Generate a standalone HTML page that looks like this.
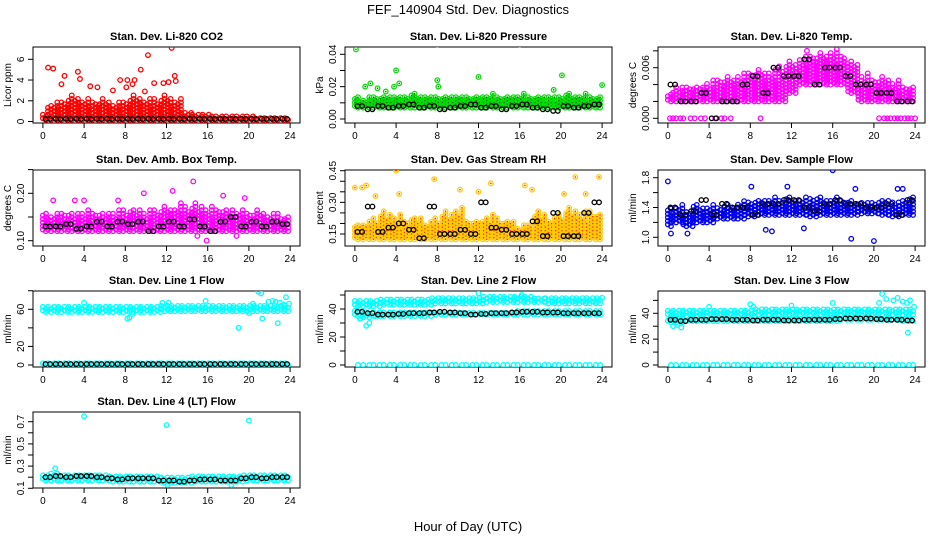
<!DOCTYPE html>
<html><head><meta charset="utf-8">
<style>
html,body{margin:0;padding:0;background:#fff;}
svg{display:block;font-family:"Liberation Sans",sans-serif;}
</style></head>
<body>
<svg id="chart" width="936" height="540" viewBox="0 0 936 540">
<text x="468" y="14" text-anchor="middle" font-size="13">FEF_140904  Std. Dev. Diagnostics</text>
<text x="468" y="531" text-anchor="middle" font-size="13">Hour of Day (UTC)</text>
</svg>
<script>
// ---------- data ----------
const hours = [0,1,2,3,4,5,6,7,8,9,10,11,12,13,14,15,16,17,18,19,20,21,22,23,24];
const blackT = [0.5,1.5,2.5,3.5,4.5,5.5,6.5,7.5,8.5,9.5,10.5,11.5,12.5,13.5,14.5,15.5,16.5,17.5,18.5,19.5,20.5,21.5,22.5,23.5];
const xTicks = [0,4,8,12,16,20,24];

const co2Lo = [0.15,0.15,0.15,0.15,0.15,0.15,0.15,0.15,0.15,0.15,0.15,0.15,0.15,0.15,0.15,0.15,0.15,0.15,0.15,0.15,0.15,0.15,0.15,0.15,0.15];
const co2Hi = [0.8,2.0,2.3,2.6,2.5,2.3,2.2,2.0,2.3,2.6,2.5,2.4,2.6,2.4,1.2,0.8,0.7,0.6,0.5,0.5,0.5,0.45,0.45,0.45,0.45];
const co2Black = [0.25,0.25,0.25,0.25,0.25,0.25,0.25,0.25,0.25,0.25,0.25,0.25,0.25,0.25,0.25,0.25,0.25,0.25,0.25,0.25,0.25,0.25,0.25,0.25];
const co2OutT = [0.5,1.0,2.1,3.4,3.6,1.8,5.3,7.5,8.2,8.1,8.9,8.7,9.5,10.2,10.8,11.7,12.2,12.5,12.8,12.9,9.9,4.6,6.8];
const co2OutV = [5.2,5.1,4.4,4.8,4.1,3.6,3.3,4.0,4.0,3.3,4.0,3.6,5.0,6.4,3.7,3.7,3.8,7.1,4.4,3.9,2.9,3.4,3.0];

const presLo = [0.007,0.007,0.007,0.007,0.007,0.007,0.007,0.007,0.007,0.007,0.007,0.007,0.007,0.007,0.007,0.007,0.007,0.007,0.007,0.007,0.007,0.007,0.007,0.007,0.007];
const presHi = [0.015,0.014,0.015,0.014,0.015,0.015,0.016,0.015,0.016,0.015,0.015,0.016,0.015,0.016,0.016,0.015,0.016,0.016,0.015,0.015,0.015,0.016,0.016,0.016,0.015];
const presBlack = [0.008,0.006,0.008,0.007,0.008,0.009,0.007,0.008,0.006,0.007,0.008,0.009,0.007,0.008,0.006,0.008,0.009,0.007,0.006,0.005,0.008,0.007,0.008,0.009];
const presOutT = [0.1,1.0,1.5,2.2,3.0,3.8,4.3,4.0,8.0,8.0,8.1,12.0,16.0,19.3,20.1,24.0];
const presOutV = [0.043,0.020,0.022,0.019,0.017,0.020,0.022,0.030,0.046,0.024,0.020,0.026,0.046,0.018,0.027,0.021];

const tempLo = [0.002,0.002,0.002,0.002,0.002,0.002,0.002,0.002,0.002,0.002,0.002,0.002,0.003,0.004,0.004,0.004,0.004,0.004,0.003,0.002,0.002,0.002,0.002,0.002,0.002];
const tempHi = [0.003,0.004,0.004,0.004,0.0045,0.005,0.005,0.0055,0.006,0.006,0.006,0.0065,0.007,0.0075,0.008,0.008,0.0085,0.008,0.007,0.0055,0.005,0.005,0.0045,0.004,0.004];
const tempBlack = [0.004,0.002,0.002,0.003,0.0,0.002,0.002,0.004,0.005,0.003,0.006,0.005,0.005,0.007,0.004,0.006,0.006,0.005,0.004,0.004,0.003,0.003,0.002,0.002];
const tempOutT = [0.2,0.5,0.8,1.2,1.5,2.2,2.6,3.2,3.6,4.6,5.2,5.5,6.1,9.0,20.5,21.0,21.3,21.6,22.0,22.3,22.6,23.0,23.3,23.6,24.0,17.8,13.5];
const tempOutV = [0,0,0,0,0,0,0,0,0,0,0,0,0,0,0,0,0,0,0,0,0,0,0,0,0,0.0095,0.008];

const boxLo = [0.12,0.12,0.12,0.12,0.12,0.12,0.12,0.12,0.12,0.12,0.12,0.12,0.12,0.12,0.12,0.12,0.12,0.12,0.12,0.12,0.12,0.12,0.12,0.12,0.12];
const boxHi = [0.165,0.16,0.165,0.16,0.165,0.165,0.16,0.165,0.17,0.17,0.165,0.17,0.175,0.18,0.18,0.18,0.175,0.175,0.17,0.17,0.165,0.165,0.16,0.16,0.155];
const boxBlack = [0.13,0.13,0.135,0.125,0.13,0.14,0.13,0.14,0.135,0.14,0.12,0.13,0.14,0.13,0.145,0.13,0.12,0.14,0.15,0.13,0.14,0.13,0.14,0.135];
const boxOutT = [1.0,3.1,4.0,7.3,9.8,12.6,14.6,15.9,16.6,17.5,19.6,15.0,18.8];
const boxOutV = [0.185,0.185,0.185,0.185,0.2,0.205,0.225,0.1,0.265,0.195,0.19,0.11,0.11];

const rhLo = [0.125,0.125,0.125,0.125,0.125,0.125,0.125,0.125,0.125,0.125,0.125,0.125,0.125,0.125,0.125,0.125,0.125,0.125,0.125,0.125,0.125,0.125,0.125,0.125,0.125];
const rhHi = [0.2,0.22,0.24,0.26,0.25,0.22,0.24,0.22,0.24,0.26,0.28,0.22,0.22,0.25,0.24,0.22,0.2,0.2,0.26,0.24,0.26,0.28,0.27,0.28,0.25];
const rhBlack = [0.16,0.28,0.16,0.18,0.2,0.17,0.13,0.28,0.15,0.15,0.17,0.15,0.3,0.18,0.17,0.15,0.15,0.21,0.14,0.25,0.14,0.14,0.25,0.3];
const rhOutT = [0.0,0.7,1.1,2.0,4.0,4.3,7.7,10.2,12.0,13.2,16.5,17.2,20.3,21.4,22.4,23.7];
const rhOutV = [0.37,0.37,0.38,0.33,0.45,0.34,0.41,0.36,0.35,0.39,0.38,0.36,0.34,0.42,0.34,0.42];

const flowLo = [1.15,1.2,1.15,1.2,1.2,1.25,1.25,1.25,1.28,1.3,1.3,1.3,1.3,1.3,1.28,1.3,1.3,1.3,1.3,1.32,1.32,1.3,1.28,1.3,1.3];
const flowHi = [1.45,1.45,1.4,1.45,1.45,1.45,1.45,1.5,1.5,1.52,1.55,1.55,1.55,1.55,1.55,1.55,1.55,1.55,1.5,1.5,1.5,1.52,1.5,1.55,1.55];
const flowBlack = [1.4,1.3,1.35,1.5,1.3,1.45,1.4,1.4,1.3,1.45,1.45,1.5,1.5,1.4,1.35,1.45,1.5,1.45,1.45,1.4,1.4,1.45,1.3,1.5];
const flowOutT = [0.0,0.3,1.9,8.1,9.5,11.6,16.0,17.8,18.2,20.0,22.3,22.8,13.2,10.1];
const flowOutV = [1.75,1.05,1.05,1.68,1.1,1.68,1.9,0.98,1.65,0.95,1.65,1.65,1.12,1.08];

const l1ALo = [57,57,57,57,57,57,57,57,57,57,57,57,58,58,58,58,58,58,58,58,58,58,58,58,58];
const l1AHi = [63,63,63,63,63,63,63,63,63,63,64,64,64,64,64,64,64,64,64,64,64,64,64,64,64];
const l1BLo = [0,0,0,0,0,0,0,0,0,0,0,0,0,0,0,0,0,0,0,0,0,0,0,0,0];
const l1BHi = [2,2,2,2,2,2,2,2,2,2,2,2,2,2,2,2,2,2,2,2,2,2,2,2,2];
const l1Black = [1,1,1,1,1,1,1,1,1,1,1,1,1,1,1,1,1,1,1,1,1,1,1,1];
const l1OutT = [4.0,8.2,8.4,8.7,11.6,12.2,15.8,20.4,20.9,21.2,21.9,22.3,22.6,23.0,23.4,23.6,23.9,19.0,20.0,21.3,22.8];
const l1OutV = [67,50,51,55,67,67,69,66,79,77,68,69,68,67,65,73,66,40,56,50,45];

const l2ALo = [42,42,42,43,43,43,43,43,44,44,44,44,44,45,45,45,45,45,45,44,44,44,44,44,44];
const l2AHi = [46,46,46,47,47,47,47,47,48,48,48,48,48,49,49,49,49,49,48,48,48,48,48,48,48];
const l2BLo = [35,34,35,35,35,35,35,35,36,36,36,36,36,36,36,36,36,36,36,36,36,36,36,36,36];
const l2BHi = [39,38,38,38,38,38,38,38,38,38,38,38,38,38,38,38,39,39,39,39,39,39,39,39,39];
const l2CLo = [0,0,0,0,0,0,0,0,0,0,0,0,0,0,0,0,0,0,0,0,0,0,0,0,0];
const l2CHi = [1,1,1,1,1,1,1,1,1,1,1,1,1,1,1,1,1,1,1,1,1,1,1,1,1];
const l2Black = [38,37,36,36,36.5,37,37,37.5,38,37.5,37,36,36.5,37,37,37.5,38,38,37.5,37.5,37,37,37,37];
const l2OutT = [0.5,0.8,1.1,1.4,2.0,12.0,16.2,24.0];
const l2OutV = [33,36,28,30,35,51,50,48];

const l3ALo = [38,38,38,38,38,38,38,38,38,39,39,39,39,39,39,39,39,39,39,39,39,39,39,39,39];
const l3AHi = [42,42,42,42,42,42,42,42,43,43,43,43,43,44,44,44,44,44,44,43,43,43,43,43,43];
const l3BLo = [33,33,34,34,34,34,34,34,34,34,34,34,34,34,34,34,34,35,35,35,35,35,35,34,34];
const l3BHi = [36,36,36,36,36,36,36,36,36,36,36,36,36,36,36,36,37,37,37,37,37,37,37,36,36];
const l3CLo = [0,0,0,0,0,0,0,0,0,0,0,0,0,0,0,0,0,0,0,0,0,0,0,0,0];
const l3CHi = [1,1,1,1,1,1,1,1,1,1,1,1,1,1,1,1,1,1,1,1,1,1,1,1,1];
const l3Black = [35,34,35,35,35.5,35.5,35,35,34.5,35,35,34.5,34.5,35,35,35,35.5,36,36,36,35.5,35,35,34.5];
const l3OutT = [0.5,0.9,1.3,4.0,8.0,8.3,12.0,16.0,20.5,20.8,21.2,21.9,22.3,22.8,23.2,23.5,23.9,23.3];
const l3OutV = [30,31,29,45,47,45,46,48,48,55,51,50,52,49,48,50,45,25];

const l4Lo = [0.17,0.17,0.17,0.17,0.17,0.17,0.17,0.16,0.16,0.16,0.16,0.16,0.15,0.15,0.15,0.16,0.16,0.16,0.16,0.16,0.17,0.17,0.17,0.17,0.17];
const l4Hi = [0.23,0.24,0.23,0.23,0.23,0.23,0.22,0.22,0.22,0.22,0.22,0.21,0.21,0.21,0.21,0.21,0.21,0.21,0.21,0.22,0.22,0.22,0.22,0.22,0.22];
const l4Black = [0.2,0.21,0.2,0.21,0.21,0.2,0.19,0.18,0.19,0.19,0.19,0.17,0.17,0.16,0.17,0.18,0.18,0.17,0.17,0.19,0.2,0.19,0.2,0.2];
const l4OutT = [4.0,12.0,20.0,1.2,12.1,18.3];
const l4OutV = [0.75,0.67,0.71,0.28,0.13,0.13];

// ---------- drawing ----------
const NS = 'http://www.w3.org/2000/svg';
const svg = document.getElementById('chart');
function mk(tag, attrs, parent){ const e=document.createElementNS(NS,tag); for(const k in attrs) e.setAttribute(k,attrs[k]); (parent||svg).appendChild(e); return e; }

const colLeft = [33,345,658], rowTop = [47,170,291,412], W = 267, H = 76;
const jag = [0,3,1,5,2,4,0,6,1,3,5,2];

function panel(o){
  const g = mk('g',{});
  
  
  const L = colLeft[o.col], T = rowTop[o.row], B = T+H;
  const xs = t => L + (t+0.96)/25.92*W;
  const ys = v => o.y0px + (v - o.y0)*(o.y1px - o.y0px)/(o.y1 - o.y0);
  const title = mk('text',{x:L+W/2,y:T-7,'text-anchor':'middle','font-size':'11','font-weight':'bold'},g);
  title.textContent = o.title;
  
  
  const box = mk('rect',{x:L,y:T,width:W,height:H,fill:'none',stroke:'#000','stroke-width':1},g);
  
  
  xTicks.forEach(t=>{
    mk('line',{x1:xs(t),x2:xs(t),y1:B,y2:B+5,stroke:'#000'},g);
    const tl = mk('text',{x:xs(t),y:B+16,'text-anchor':'middle','font-size':'10'},g);
    tl.textContent = t;
    
    
  });
  o.yTicks.forEach((v,i)=>{
    const y = ys(v);
    mk('line',{x1:L-5,x2:L,y1:y,y2:y,stroke:'#000'},g);
    if(o.yLabels[i] !== ''){
      const tl = mk('text',{x:L-9,y:y,'text-anchor':'middle','font-size':'10',transform:`rotate(-90 ${L-9} ${y})`},g);
      tl.textContent = o.yLabels[i];
      
      
    }
  });
  const yt = mk('text',{x:L-22,y:T+H/2,'text-anchor':'middle','font-size':'10',transform:`rotate(-90 ${L-22} ${T+H/2})`},g);
  yt.textContent = o.ylab;
  
  
  const clip = 'clip'+o.col+o.row;
  const cp = mk('clipPath',{id:clip},g); mk('rect',{x:L,y:T,width:W,height:H},cp);
  const pg = mk('g',{'clip-path':`url(#${clip})`},g);
  function circ(x,y,color,name,dot){
    const c = mk('circle',{cx:x,cy:y,r:2.3,fill:'none',stroke:color,'stroke-width':1.3},pg);
    
    
    if(dot) mk('rect',{x:x-0.7,y:y-0.7,width:1.4,height:1.4,fill:dot},pg);
  }
  let k = 0;
  o.clouds.forEach(([lo,hi])=>{
    hours.forEach((h,i)=>{
      const yA = ys(lo[i]), yB = ys(hi[i]);
      const top = Math.min(yA,yB), bot = Math.max(yA,yB);
      for(let t=Math.max(0,h-0.5); t<=Math.min(24,h+0.5); t+=0.3){
        k++;
        const span = bot-top;
        const j = span > 8 ? jag[k%jag.length]*span/14 : 0;
        const off = (k%2)*1.7;
        for(let y=bot-off; y>=top+j-0.1; y-=3.5){
          circ(xs(t),y,o.color,'cloud-point',o.dot);
        }
      }
    });
  });
  o.outT.forEach((t,i)=>circ(xs(t),ys(o.outV[i]),o.color,'outlier-point',o.dot));
  o.black.forEach((v,i)=>{
    circ(xs(blackT[i]-0.25),ys(v),'#000','black-point',null);
    circ(xs(blackT[i]+0.2),ys(v),'#000','black-point',null);
  });
}

panel({name:'panel-co2',title:'Stan. Dev. Li-820 CO2',ylab:'Licor ppm',col:0,row:0,color:'#ff0000',
  y0:0,y0px:121.5,y1:6,y1px:59.3,yTicks:[0,2,4,6],yLabels:['0','2','4','6'],
  clouds:[[co2Lo,co2Hi]],black:co2Black,outT:co2OutT,outV:co2OutV});
panel({name:'panel-pressure',title:'Stan. Dev. Li-820 Pressure',ylab:'kPa',col:1,row:0,color:'#00dd00',dot:'#006600',
  y0:0,y0px:119,y1:0.04,y1px:54.3,yTicks:[0,0.01,0.02,0.03,0.04],yLabels:['0.00','','0.02','','0.04'],
  clouds:[[presLo,presHi]],black:presBlack,outT:presOutT,outV:presOutV});
panel({name:'panel-temp',title:'Stan. Dev. Li-820 Temp.',ylab:'degrees C',col:2,row:0,color:'#ff00ff',
  y0:0,y0px:118.3,y1:0.006,y1px:67.7,yTicks:[0,0.002,0.004,0.006,0.008],yLabels:['0.000','','','0.006',''],
  clouds:[[tempLo,tempHi]],black:tempBlack,outT:tempOutT,outV:tempOutV});
panel({name:'panel-box-temp',title:'Stan. Dev. Amb. Box Temp.',ylab:'degrees C',col:0,row:1,color:'#ff00ff',
  y0:0.10,y0px:240.7,y1:0.20,y1px:193.3,yTicks:[0.10,0.15,0.20,0.25],yLabels:['0.10','','0.20',''],
  clouds:[[boxLo,boxHi]],black:boxBlack,outT:boxOutT,outV:boxOutV});
panel({name:'panel-rh',title:'Stan. Dev. Gas Stream RH',ylab:'percent',col:1,row:1,color:'#ffcc00',dot:'#ff2200',
  y0:0.15,y0px:234,y1:0.45,y1px:170.7,yTicks:[0.15,0.20,0.25,0.30,0.35,0.40,0.45],yLabels:['0.15','','','0.30','','','0.45'],
  clouds:[[rhLo,rhHi]],black:rhBlack,outT:rhOutT,outV:rhOutV});
panel({name:'panel-sample-flow',title:'Stan. Dev. Sample Flow',ylab:'ml/min',col:2,row:1,color:'#0000ee',
  y0:1.0,y0px:237.3,y1:1.8,y1px:177.7,yTicks:[1.0,1.2,1.4,1.6,1.8],yLabels:['1.0','','1.4','','1.8'],
  clouds:[[flowLo,flowHi]],black:flowBlack,outT:flowOutT,outV:flowOutV});
panel({name:'panel-line1',title:'Stan. Dev. Line 1 Flow',ylab:'ml/min',col:0,row:2,color:'#00ffff',
  y0:0,y0px:365,y1:60,y1px:309.3,yTicks:[0,20,40,60,80],yLabels:['0','20','','60',''],
  clouds:[[l1ALo,l1AHi],[l1BLo,l1BHi]],black:l1Black,outT:l1OutT,outV:l1OutV});
panel({name:'panel-line2',title:'Stan. Dev. Line 2 Flow',ylab:'ml/min',col:1,row:2,color:'#00ffff',
  y0:0,y0px:365,y1:40,y1px:309,yTicks:[0,10,20,30,40,50],yLabels:['0','','20','','40',''],
  clouds:[[l2ALo,l2AHi],[l2BLo,l2BHi],[l2CLo,l2CHi]],black:l2Black,outT:l2OutT,outV:l2OutV});
panel({name:'panel-line3',title:'Stan. Dev. Line 3 Flow',ylab:'ml/min',col:2,row:2,color:'#00ffff',
  y0:0,y0px:365,y1:40,y1px:313.3,yTicks:[0,10,20,30,40,50],yLabels:['0','','20','','40',''],
  clouds:[[l3ALo,l3AHi],[l3BLo,l3BHi],[l3CLo,l3CHi]],black:l3Black,outT:l3OutT,outV:l3OutV});
panel({name:'panel-line4',title:'Stan. Dev. Line 4 (LT) Flow',ylab:'ml/min',col:0,row:3,color:'#00ffff',
  y0:0.1,y0px:488.3,y1:0.7,y1px:421.7,yTicks:[0.1,0.2,0.3,0.4,0.5,0.6,0.7],yLabels:['0.1','','0.3','','0.5','','0.7'],
  clouds:[[l4Lo,l4Hi]],black:l4Black,outT:l4OutT,outV:l4OutV});
</script>
</body></html>
